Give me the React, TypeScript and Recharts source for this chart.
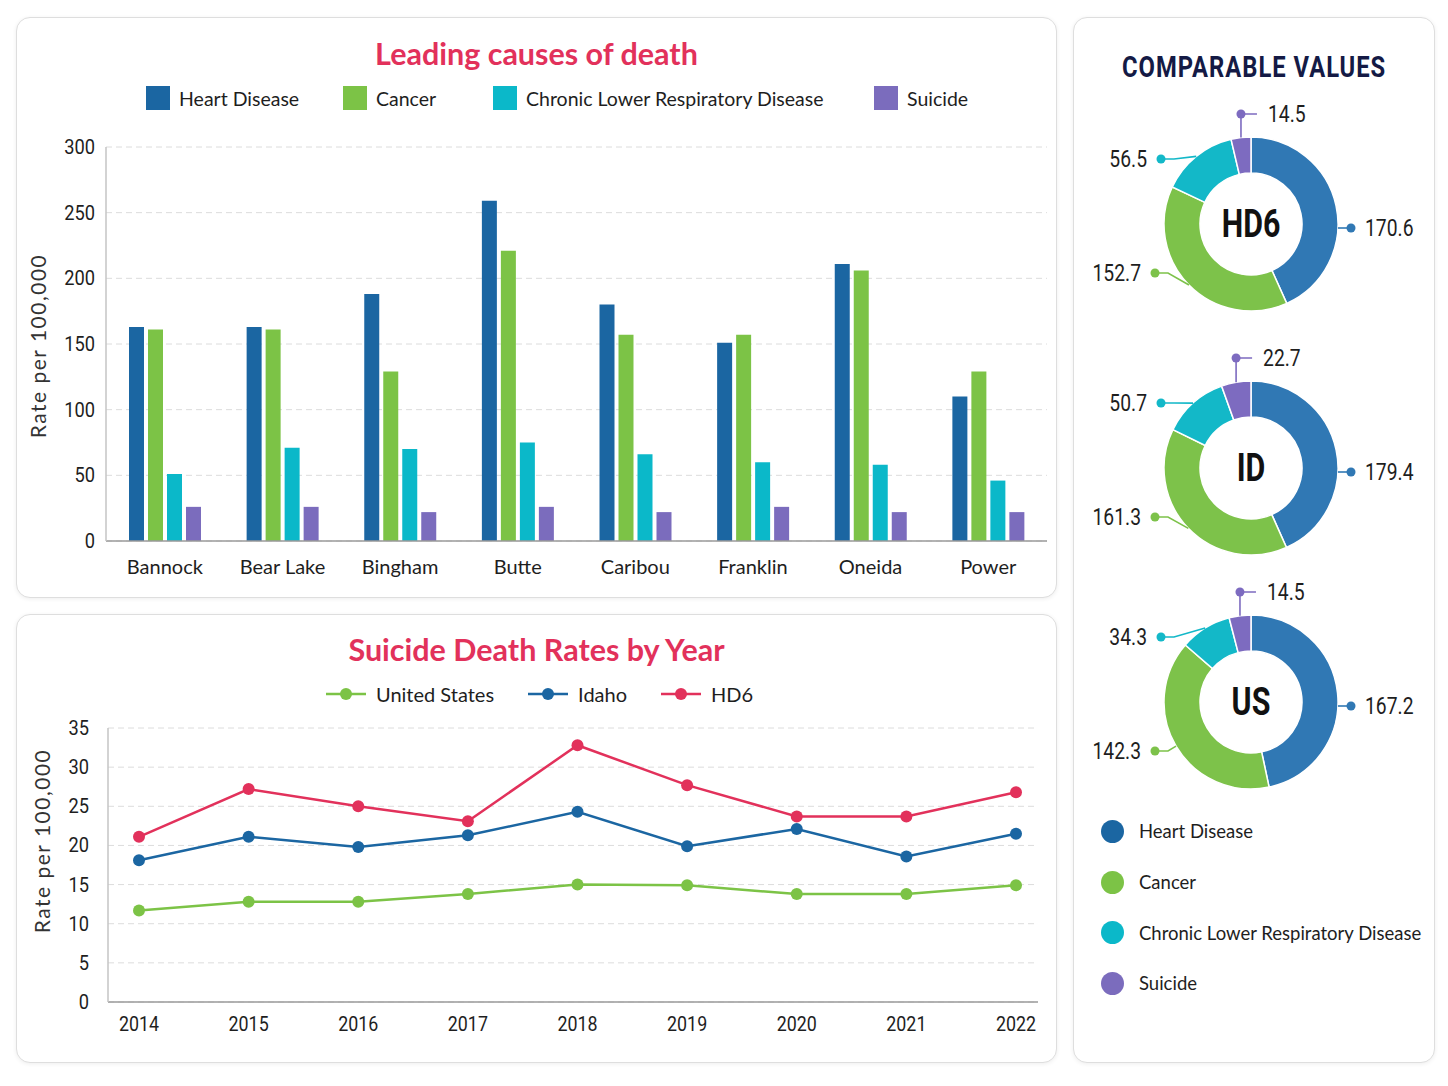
import React from 'react';
import { BarChart, Bar, LineChart, Line, PieChart, Pie, Cell, XAxis, YAxis, CartesianGrid } from 'recharts';

// Leading causes of death by county (rate per 100,000)
const counties = ['Bannock', 'Bear Lake', 'Bingham', 'Butte', 'Caribou', 'Franklin', 'Oneida', 'Power'];
const heartDisease = [163, 163, 188, 259, 180, 151, 211, 110];
const cancer = [161, 161, 129, 221, 157, 157, 206, 129];
const clrd = [51, 71, 70, 75, 66, 60, 58, 46];
const suicide = [26, 26, 22, 26, 22, 26, 22, 22];
const barTicks = [0, 50, 100, 150, 200, 250, 300];

// Suicide death rates by year
const years = ['2014', '2015', '2016', '2017', '2018', '2019', '2020', '2021', '2022'];
const usRate = [11.7, 12.8, 12.8, 13.8, 15.0, 14.9, 13.8, 13.8, 14.9];
const idahoRate = [18.1, 21.1, 19.8, 21.3, 24.3, 19.9, 22.1, 18.6, 21.5];
const hd6Rate = [21.1, 27.2, 25.0, 23.1, 32.8, 27.7, 23.7, 23.7, 26.8];
const lineTicks = [0, 5, 10, 15, 20, 25, 30, 35];

// Comparable values for the donuts
const causes = ['Heart Disease', 'Cancer', 'Chronic Lower Respiratory Disease', 'Suicide'];
const hd6Values = [170.6, 152.7, 56.5, 14.5];
const idValues = [179.4, 161.3, 50.7, 22.7];
const usValues = [167.2, 142.3, 34.3, 14.5];

const BAR_COLORS = ['#1b66a2', '#7cc346', '#0bb8c9', '#7b6cbd'];
const DONUT_COLORS = ['#3078b4', '#7dc24a', '#13b8c8', '#7d6bc0'];
const LINE_COLORS = { us: '#7cc346', idaho: '#1b66a2', hd6: '#e2315b' };
const TITLE_RED = '#e2315b';
const NUM_FONT = 'Roboto, sans-serif';
const TEXT = '#1e1e1e';

const barData = counties.map((county, i) => ({
  county,
  heart: heartDisease[i],
  cancer: cancer[i],
  clrd: clrd[i],
  suicide: suicide[i],
}));

const lineData = years.map((year, i) => ({
  year,
  us: usRate[i],
  idaho: idahoRate[i],
  hd6: hd6Rate[i],
}));

const card: React.CSSProperties = {
  position: 'absolute',
  background: '#fff',
  border: '1px solid #dedede',
  borderRadius: 14,
  boxShadow: '0 1px 4px rgba(0,0,0,0.07)',
  boxSizing: 'border-box',
};

const titleStyle: React.CSSProperties = {
  position: 'absolute',
  left: 0,
  width: '100%',
  textAlign: 'center',
  fontSize: 30.5,
  fontWeight: 700,
  color: TITLE_RED,
  lineHeight: '36px',
};

// condensed numerals: Roboto squeezed horizontally
function NarrowText({ x, y, anchor, size, children, weight = 400, squeeze = 0.85 }: any) {
  return (
    <g transform={`translate(${x},${y}) scale(${squeeze},1)`}>
      <text
        x={0}
        y={0}
        textAnchor={anchor}
        dominantBaseline="central"
        fontFamily={NUM_FONT}
        fontSize={size}
        fontWeight={weight}
        fill={TEXT}
      >
        {children}
      </text>
    </g>
  );
}

const YTick = (props: any) => (
  <NarrowText x={props.x} y={props.y} anchor="end" size={21} squeeze={0.87}>
    {props.payload.value}
  </NarrowText>
);

const YearTick = (props: any) => (
  <NarrowText x={props.x} y={props.y} anchor="middle" size={21} squeeze={0.85}>
    {props.payload.value}
  </NarrowText>
);

const RING_OUTER = 87;
const RING_INNER = 51;

// where each value label sits, relative to the donut centre
const labelSpots = [
  { dx: 100, dy: 4, side: 'right', mode: 'h' },
  { dx: -96, dy: 49, side: 'left', mode: 'elbow' },
  { dx: -90, dy: -65, side: 'left', mode: 'elbow' },
  { dx: 0, dy: -110, side: 'right', mode: 'v' },
];

const RAD = Math.PI / 180;

function DonutLabel(props: any) {
  const { cx, cy, midAngle, outerRadius, index, value } = props;
  const color = DONUT_COLORS[index];
  const spot = labelSpots[index];
  const rx = cx + outerRadius * Math.cos(midAngle * RAD);
  const ry = cy - outerRadius * Math.sin(midAngle * RAD);
  let dotX = cx + spot.dx;
  const dotY = cy + spot.dy;
  let path = '';
  let textX = 0;
  if (spot.mode === 'h') {
    const edgeX = cx + Math.sqrt(outerRadius * outerRadius - spot.dy * spot.dy);
    path = `M${edgeX},${dotY} L${dotX},${dotY}`;
    textX = dotX + 14;
  } else if (spot.mode === 'v') {
    dotX = rx;
    path = `M${rx},${ry} L${dotX},${dotY} M${dotX},${dotY} L${dotX + 16},${dotY}`;
    textX = dotX + 27;
  } else {
    path = `M${dotX},${dotY} L${dotX + 13},${dotY} L${rx},${ry}`;
    textX = dotX - 14;
  }
  return (
    <g>
      <path d={path} stroke={color} strokeWidth={1.6} fill="none" />
      <circle cx={dotX} cy={dotY} r={4.5} fill={color} />
      <NarrowText x={textX} y={dotY} anchor={spot.side === 'right' ? 'start' : 'end'} size={23} squeeze={0.84}>
        {value}
      </NarrowText>
    </g>
  );
}

const DONUT_CX = 172;
const DONUT_CY = 120;

function Donut({ values, name, top }: { values: number[]; name: string; top: number }) {
  const data = causes.map((cause, i) => ({ name: cause, value: values[i] }));
  return (
    <div style={{ position: 'absolute', left: 0, top, width: 360, height: 250 }}>
      <PieChart width={360} height={250}>
        <Pie
          data={data}
          dataKey="value"
          cx={DONUT_CX}
          cy={DONUT_CY}
          innerRadius={RING_INNER}
          outerRadius={RING_OUTER}
          startAngle={90}
          endAngle={-270}
          stroke="#ffffff"
          strokeWidth={1.5}
          label={DonutLabel}
          labelLine={false}
          isAnimationActive={false}
        >
          {data.map((d, i) => (
            <Cell key={d.name} fill={DONUT_COLORS[i]} />
          ))}
        </Pie>
      </PieChart>
      <div
        style={{
          position: 'absolute',
          left: DONUT_CX + 5,
          top: DONUT_CY + 5,
          transform: 'translate(-50%, -50%) scaleX(0.8)',
          fontFamily: NUM_FONT,
          fontWeight: 700,
          fontSize: 38,
          lineHeight: '40px',
          color: '#111',
          whiteSpace: 'nowrap',
        }}
      >
        {name}
      </div>
    </div>
  );
}

function YLabel({ left, top }: { left: number; top: number }) {
  return (
    <div
      style={{
        position: 'absolute',
        left,
        top,
        transform: 'translate(-50%, -50%) rotate(-90deg)',
        whiteSpace: 'nowrap',
        fontSize: 21,
        letterSpacing: 1.5,
        color: '#333',
      }}
    >
      Rate per 100,000
    </div>
  );
}

// left edge of each legend swatch inside the card
const barLegendLeft = [129, 326, 476, 857];

function LeadingCausesCard() {
  const keys = ['heart', 'cancer', 'clrd', 'suicide'];
  return (
    <div style={{ ...card, left: 16, top: 17, width: 1041, height: 581 }}>
      <div style={{ ...titleStyle, top: 17 }}>Leading causes of death</div>
      {causes.map((c, i) => (
        <div
          key={c}
          style={{ position: 'absolute', left: barLegendLeft[i], top: 68, display: 'flex', alignItems: 'center' }}
        >
          <div style={{ width: 24, height: 24, background: BAR_COLORS[i] }} />
          <span style={{ marginLeft: 9, fontSize: 19.5, color: TEXT, whiteSpace: 'nowrap' }}>{c}</span>
        </div>
      ))}
      <YLabel left={20} top={328} />
      <div style={{ position: 'absolute', left: 0, top: 0 }}>
        <BarChart
          width={1041}
          height={581}
          data={barData}
          margin={{ top: 129, right: 11, bottom: 0, left: 0 }}
          barSize={15}
          barGap={4}
        >
          <CartesianGrid vertical={false} stroke="#dcdcdc" strokeDasharray="6 4" />
          <XAxis
            dataKey="county"
            height={58}
            tickLine={false}
            axisLine={{ stroke: '#9a9a9a', strokeWidth: 1.5 }}
            tickMargin={13}
            tick={{ fontSize: 20, fill: TEXT, fontFamily: 'Lato, sans-serif' }}
          />
          <YAxis
            width={89}
            domain={[0, 300]}
            ticks={barTicks}
            tickLine={false}
            axisLine={{ stroke: '#c4c4c4', strokeWidth: 1.5 }}
            tickMargin={5}
            tick={YTick}
          />
          {keys.map((k, i) => (
            <Bar key={k} dataKey={k} name={causes[i]} fill={BAR_COLORS[i]} isAnimationActive={false} />
          ))}
        </BarChart>
      </div>
    </div>
  );
}

const lineSeries = [
  { key: 'us', name: 'United States', color: LINE_COLORS.us },
  { key: 'idaho', name: 'Idaho', color: LINE_COLORS.idaho },
  { key: 'hd6', name: 'HD6', color: LINE_COLORS.hd6 },
];

function SuicideRatesCard() {
  return (
    <div style={{ ...card, left: 16, top: 614, width: 1041, height: 449 }}>
      <div style={{ ...titleStyle, top: 16 }}>Suicide Death Rates by Year</div>
      <div style={{ position: 'absolute', left: 309, top: 67, display: 'flex', alignItems: 'center' }}>
        {lineSeries.map((s) => (
          <div key={s.key} style={{ display: 'flex', alignItems: 'center', marginRight: 34 }}>
            <svg width={40} height={14}>
              <line x1={0} y1={7} x2={40} y2={7} stroke={s.color} strokeWidth={2.5} />
              <circle cx={20} cy={7} r={6} fill={s.color} />
            </svg>
            <span style={{ marginLeft: 10, fontSize: 20, color: TEXT }}>{s.name}</span>
          </div>
        ))}
      </div>
      <YLabel left={24} top={226} />
      <div style={{ position: 'absolute', left: 0, top: 0 }}>
        <LineChart width={1041} height={449} data={lineData} margin={{ top: 113, right: 20, bottom: 0, left: 0 }}>
          <CartesianGrid vertical={false} stroke="#dcdcdc" strokeDasharray="6 4" />
          <XAxis
            dataKey="year"
            height={62}
            padding={{ left: 31, right: 22 }}
            tickLine={false}
            axisLine={{ stroke: '#9a9a9a', strokeWidth: 1.5 }}
            tickMargin={16}
            tick={YearTick}
          />
          <YAxis
            width={91}
            domain={[0, 35]}
            ticks={lineTicks}
            tickLine={false}
            axisLine={{ stroke: '#c4c4c4', strokeWidth: 1.5 }}
            tickMargin={13}
            tick={YTick}
          />
          {lineSeries.map((s) => (
            <Line
              key={s.key}
              type="linear"
              dataKey={s.key}
              name={s.name}
              stroke={s.color}
              strokeWidth={2.5}
              dot={{ r: 6, fill: s.color, stroke: s.color, strokeWidth: 0 }}
              isAnimationActive={false}
            />
          ))}
        </LineChart>
      </div>
    </div>
  );
}

function ComparableCard() {
  return (
    <div style={{ ...card, left: 1073, top: 17, width: 362, height: 1046 }}>
      <div style={{ position: 'absolute', left: 0, top: 31, width: '100%', textAlign: 'center' }}>
        <span
          style={{
            display: 'inline-block',
            transform: 'scaleX(0.82)',
            fontFamily: NUM_FONT,
            fontWeight: 700,
            fontSize: 29,
            letterSpacing: 1.2,
            color: '#141a45',
            lineHeight: '36px',
            whiteSpace: 'nowrap',
          }}
        >
          COMPARABLE VALUES
        </span>
      </div>
      <Donut values={hd6Values} name="HD6" top={81} />
      <Donut values={idValues} name="ID" top={325} />
      <Donut values={usValues} name="US" top={559} />
      <div style={{ position: 'absolute', left: 27, top: 788 }}>
        {causes.map((c, i) => (
          <div key={c} style={{ display: 'flex', alignItems: 'center', height: 50.7 }}>
            <div style={{ width: 23, height: 23, borderRadius: '50%', background: BAR_COLORS[i] }} />
            <span style={{ marginLeft: 15, fontSize: 18.5, color: TEXT, whiteSpace: 'nowrap' }}>{c}</span>
          </div>
        ))}
      </div>
    </div>
  );
}

export default function App() {
  return (
    <div
      style={{
        position: 'absolute',
        left: 0,
        top: 0,
        width: 1448,
        height: 1086,
        background: '#ffffff',
        fontFamily: 'Lato, sans-serif',
      }}
    >
      <LeadingCausesCard />
      <SuicideRatesCard />
      <ComparableCard />
    </div>
  );
}
